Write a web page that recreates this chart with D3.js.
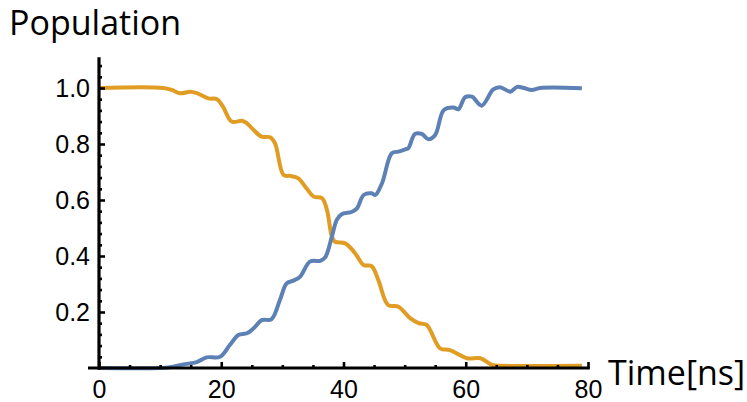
<!DOCTYPE html>
<html>
<head>
<meta charset="utf-8">
<script src="https://cdn.jsdelivr.net/npm/d3@7"></script>
<style>
  body { margin: 0; background: #fff; }
  svg { display: block; }
</style>
</head>
<body>
<div id="chart"></div>
<script>
// 1- Data --------------------------------------------------------------------------------
const tBlue = [0, 10, 11.6, 13.8, 16.0, 17.6, 19.8, 21.4, 22.8, 24.2, 25.3, 26.6, 28.2, 29.6, 30.7,
  31.8, 32.9, 34.5, 36.2, 37.0, 38.1, 38.9, 39.7, 41.4, 42.2, 43.3, 44.6, 45.2, 46.3, 47.9, 49.0,
  50.1, 50.6, 51.7, 52.8, 53.9, 55.0, 56.4, 58.0, 58.8, 59.9, 61.0, 62.6, 64.5, 65.6, 67.3, 68.4,
  69.5, 70.8, 72.2, 79];
const blue = [0, 0, 0.003, 0.013, 0.021, 0.038, 0.040, 0.082, 0.118, 0.124, 0.142, 0.171, 0.174, 0.243, 0.302,
  0.312, 0.326, 0.380, 0.383, 0.395, 0.469, 0.529, 0.549, 0.558, 0.570, 0.618, 0.624, 0.618, 0.660, 0.767, 0.773,
  0.781, 0.785, 0.836, 0.836, 0.817, 0.832, 0.921, 0.930, 0.924, 0.967, 0.969, 0.937, 0.995, 1.003, 0.987, 1.004,
  1.0, 0.993, 1.0, 0.999];

const tOrange = [0, 10.5, 11.9, 13.3, 14.9, 16.0, 17.9, 19.3, 20.3, 21.7, 23.4, 24.2, 25.3, 26.6, 28.0,
  28.8, 30.2, 31.3, 32.6, 34.0, 35.1, 36.5, 37.3, 38.1, 38.6, 40.3, 41.9, 43.3, 44.6, 45.7, 47.3,
  49.0, 50.9, 52.3, 53.6, 55.8, 57.4, 60.2, 62.4, 64.3, 66, 79];
const orange = [1.0, 1.0, 0.993, 0.981, 0.987, 0.982, 0.963, 0.960, 0.933, 0.880, 0.883, 0.874, 0.850, 0.826, 0.824,
  0.802, 0.689, 0.686, 0.677, 0.640, 0.612, 0.606, 0.564, 0.469, 0.451, 0.445, 0.410, 0.368, 0.364, 0.314, 0.225,
  0.219, 0.178, 0.160, 0.154, 0.070, 0.064, 0.035, 0.035, 0.011, 0.008, 0.008];

const xMajor = [0, 20, 40, 60, 80];
const yMajor = [0.2, 0.4, 0.6, 0.8, 1.0];

// 2- Set up the chart ---------------------------------------------------------------------
const svgWidth = 747;
const svgHeight = 402;

const svg = d3.select("#chart")
  .append("svg")
  .attr("width", svgWidth)
  .attr("height", svgHeight);

const x = d3.scaleLinear().domain([0, 80]).range([99, 588]);
const y = d3.scaleLinear().domain([0, 1]).range([368, 88]);

const tickFont = "'Liberation Sans', Arial, sans-serif";
const labelFont = "'Open Sans', 'Noto Sans', sans-serif";

// 3- Curves -------------------------------------------------------------------------------
const line = d3.line()
  .x(d => x(d[0]))
  .y(d => y(d[1]))
  .curve(d3.curveCatmullRom.alpha(0.5));

svg.append("path")
  .datum(d3.zip(tOrange, orange))
  .attr("fill", "none")
  .attr("stroke", "#E19C24")
  .attr("stroke-width", 4)
  .attr("stroke-linejoin", "round")
  .attr("d", line);

svg.append("path")
  .datum(d3.zip(tBlue, blue))
  .attr("fill", "none")
  .attr("stroke", "#5E81B5")
  .attr("stroke-width", 4)
  .attr("stroke-linejoin", "round")
  .attr("d", line);

// 4- Axes ---------------------------------------------------------------------------------
const xMinor = d3.range(5, 80, 5).filter(v => v % 20 !== 0);
const yMinor = d3.range(0.04, 1.1, 0.04).filter(v => Math.abs(v * 5 - Math.round(v * 5)) > 1e-6);

const xAxisG = svg.append("g").attr("transform", `translate(0,${y(0)})`);
xAxisG.append("g")
  .call(d3.axisBottom(x).tickValues(xMinor).tickSize(-3).tickFormat(""));
xAxisG.append("g")
  .call(d3.axisBottom(x).tickValues(xMajor).tickSize(-6).tickPadding(12).tickFormat(d3.format("d")));

const yAxisG = svg.append("g").attr("transform", `translate(${x(0)},0)`);
yAxisG.append("g")
  .call(d3.axisLeft(y).tickValues(yMinor).tickSize(-3).tickFormat(""));
yAxisG.append("g")
  .call(d3.axisLeft(y).tickValues(yMajor).tickSize(-6).tickPadding(9).tickFormat(d3.format(".1f")));

svg.selectAll(".domain").remove();
svg.selectAll(".tick line").attr("stroke", "#000").attr("stroke-width", 2.6);
svg.selectAll(".tick text")
  .attr("fill", "#000")
  .attr("font-family", tickFont)
  .attr("font-size", "25px");

// axis lines
xAxisG.append("line")
  .attr("x1", x(-1.8)).attr("x2", x(80.3))
  .attr("stroke", "#000").attr("stroke-width", 3.2);
yAxisG.append("line")
  .attr("y1", y(-0.006)).attr("y2", y(1.11))
  .attr("stroke", "#000").attr("stroke-width", 3.2);

// 5- Axis labels --------------------------------------------------------------------------
svg.append("text")
  .attr("x", 9)
  .attr("y", 35)
  .attr("font-family", labelFont)
  .attr("font-size", "34px")
  .attr("fill", "#000")
  .text("Population");

svg.append("text")
  .attr("x", 608)
  .attr("y", 385)
  .attr("font-family", labelFont)
  .attr("font-size", "34px")
  .attr("fill", "#000")
  .text("Time[ns]");
</script>
</body>
</html>
